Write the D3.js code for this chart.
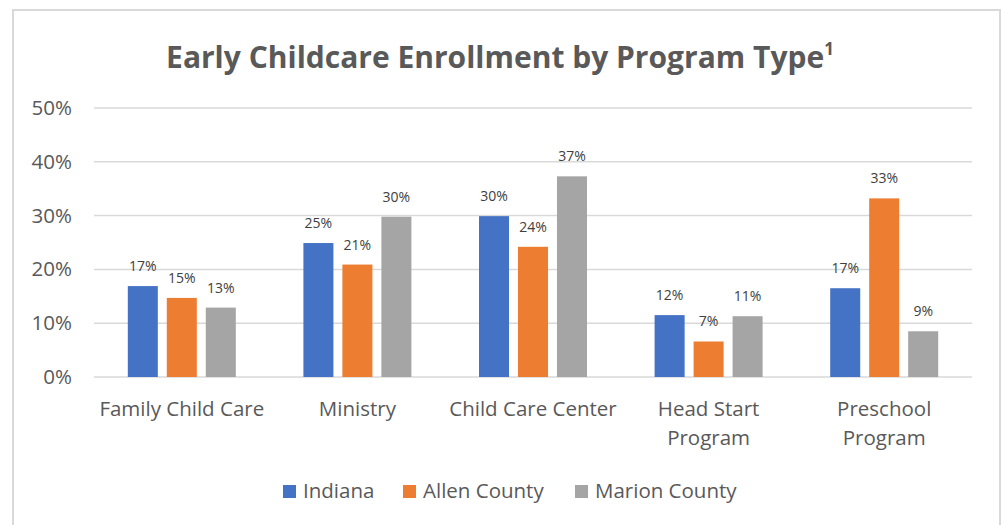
<!DOCTYPE html>
<html><head><meta charset="utf-8">
<script src="https://cdn.jsdelivr.net/npm/d3@7/dist/d3.min.js"></script>
<style>
html,body{margin:0;padding:0;background:#fff;}
svg{display:block;font-family:"Open Sans",sans-serif;}
</style></head>
<body><svg id="c" width="1001" height="525"></svg>
<script>
const categories = [["Family Child Care"],["Ministry"],["Child Care Center"],["Head Start","Program"],["Preschool","Program"]];
const seriesNames = ["Indiana","Allen County","Marion County"];
const indiana = [16.9, 24.9, 29.9, 11.5, 16.5];
const allen = [14.7, 20.9, 24.2, 6.6, 33.2];
const marion = [12.9, 29.8, 37.3, 11.3, 8.5];
const yTicks = [0,10,20,30,40,50];
const colors = ["#4472C4","#ED7D31","#A5A5A5"];
const seriesValues = [indiana, allen, marion];

const svg = d3.select("#c");
// chart border
svg.append("rect").attr("x",13).attr("y",10).attr("width",987).attr("height",530)
  .attr("fill","#fff").attr("stroke","#d9d9d9").attr("stroke-width",2);

svg.append("text").attr("x",500).attr("y",68).attr("text-anchor","middle")
  .attr("font-size",30).attr("font-weight",700).attr("fill","#595959")
  .text("Early Childcare Enrollment by Program Type").append("tspan")
  .attr("font-size",17).attr("dy",-13).text("1");

const pLeft=94, pRight=972, pTop=108, pBottom=377;
const y = d3.scaleLinear().domain([0,50]).range([pBottom,pTop]);
const x0 = d3.scaleBand().domain(d3.range(categories.length)).range([pLeft,pRight]);
const x1 = d3.scaleBand().domain(d3.range(seriesNames.length)).range([0,108]).paddingInner(0.23);

const g = svg.append("g");
g.selectAll("line.grid").data(yTicks).join("line")
  .attr("x1",pLeft).attr("x2",pRight).attr("y1",d=>y(d)).attr("y2",d=>y(d))
  .attr("stroke","#d9d9d9").attr("stroke-width",1.5);
g.selectAll("text.yt").data(yTicks).join("text")
  .attr("x",72).attr("y",d=>y(d)+7).attr("text-anchor","end")
  .attr("font-size",20.5).attr("fill","#595959").text(d=>d+"%");

categories.forEach((cat,ci)=>{
  const gx = x0(ci) + (x0.bandwidth()-108)/2;
  seriesValues.forEach((vals,si)=>{
    const v = vals[ci];
    const bx = gx + x1(si);
    g.append("rect").attr("x",bx).attr("y",y(v)).attr("width",x1.bandwidth())
      .attr("height",y(0)-y(v)).attr("fill",colors[si]);
    g.append("text").attr("x",bx+x1.bandwidth()/2).attr("y",y(v)-15)
      .attr("text-anchor","middle").attr("font-size",14).attr("fill","#404040")
      .text(Math.round(v)+"%");
  });
  const t = g.append("text").attr("text-anchor","middle").attr("font-size",20.5).attr("fill","#595959");
  cat.forEach((line,li)=>{
    t.append("tspan").attr("x",x0(ci)+x0.bandwidth()/2).attr("y",416+li*29).text(line);
  });
});

// legend
const legX = [283,403,575];
seriesNames.forEach((n,i)=>{
  svg.append("rect").attr("x",legX[i]).attr("y",485).attr("width",13).attr("height",13).attr("fill",colors[i]);
  svg.append("text").attr("x",legX[i]+20).attr("y",498).attr("font-size",20.5).attr("fill","#595959").text(n);
});
</script></body></html>
